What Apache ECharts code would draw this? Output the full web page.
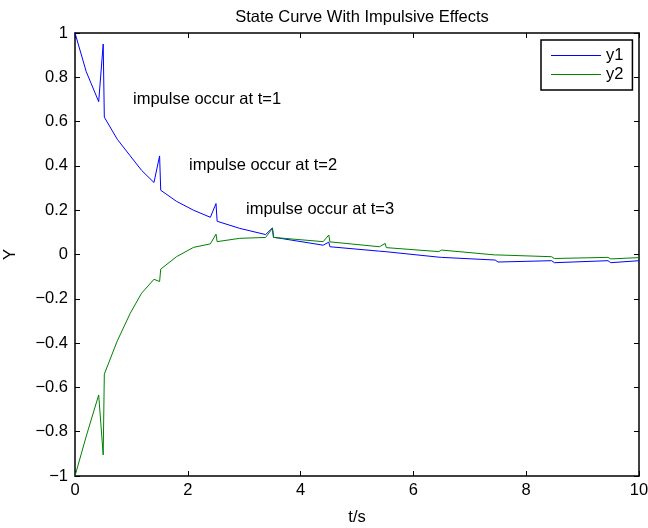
<!DOCTYPE html>
<html>
<head>
<meta charset="utf-8">
<script src="https://cdn.jsdelivr.net/npm/echarts@6/dist/echarts.min.js"></script>
<style>
  html, body { margin: 0; padding: 0; background: #fff; }
  #chart { width: 648px; height: 528px; }
</style>
</head>
<body>
<div id="chart"></div>
<script>
// sample times (s)
var t = [0, 0.2, 0.42, 0.5, 0.52, 0.75, 0.98, 1.18, 1.4, 1.5, 1.52, 1.8, 2.1, 2.4, 2.5, 2.52,
  2.92, 3.38, 3.5, 3.52, 4.4, 4.5, 4.52, 5.4, 5.5, 5.52, 6.45, 6.5, 6.52, 7.45, 7.5, 7.52,
  8.45, 8.5, 8.52, 9.45, 9.5, 9.52, 10]
var y1 = [1, 0.825, 0.69, 0.95, 0.62, 0.52, 0.445, 0.38, 0.325, 0.445, 0.29, 0.24, 0.2, 0.168, 0.23, 0.15,
  0.118, 0.09, 0.12, 0.078, 0.042, 0.056, 0.035, 0.015, 0.013, 0.011, -0.012, -0.013, -0.014, -0.025, -0.034, -0.026,
  -0.028, -0.037, -0.028, -0.028, -0.037, -0.028, -0.028]
var y2 = [-1, -0.82, -0.634, -0.905, -0.54, -0.39, -0.265, -0.175, -0.112, -0.122, -0.066, -0.01, 0.032, 0.048, 0.092, 0.058,
  0.073, 0.077, 0.118, 0.077, 0.058, 0.088, 0.057, 0.035, 0.05, 0.031, 0.013, 0.02, 0.013, -0.002, -0.002, -0.003,
  -0.01, -0.018, -0.01, -0.013, -0.02, -0.013, -0.014]
var notes = [
  { text: 'impulse occur at t=1', x: 133, y: 91 },
  { text: 'impulse occur at t=2', x: 189, y: 157 },
  { text: 'impulse occur at t=3', x: 246, y: 201 }
]

var font = 'Liberation Sans, Arial, sans-serif'
var fs = 16.5

function pairs (ys) {
  return t.map(function (x, i) { return [x, ys[i]] })
}

var axisBase = {
  type: 'value',
  axisLine: { show: true, onZero: false, lineStyle: { color: '#000', width: 1.5 } },
  axisTick: { show: true, inside: true, length: 5, lineStyle: { color: '#000', width: 1 } },
  splitLine: { show: false }
}

var chart = echarts.init(document.getElementById('chart'))
chart.setOption({
  animation: false,
  backgroundColor: '#fff',
  textStyle: { fontFamily: font },
  title: {
    text: 'State Curve With Impulsive Effects',
    left: 357,
    textAlign: 'center',
    top: 4,
    textStyle: { fontFamily: font, fontSize: fs, fontWeight: 'normal', color: '#000' }
  },
  grid: { left: 75, right: 9, top: 33, bottom: 52, outerBoundsMode: 'none', containLabel: false },
  legend: {
    orient: 'vertical',
    left: 541,
    top: 40,
    padding: [7, 9, 7, 10],
    itemGap: 2,
    itemWidth: 50,
    itemHeight: 1.2,
    icon: 'rect',
    lineStyle: { width: 1 },
    backgroundColor: '#fff',
    borderColor: '#000',
    borderWidth: 1.5,
    borderRadius: 0,
    textStyle: { fontFamily: font, fontSize: fs, color: '#000' },
    data: ['y1', 'y2']
  },
  xAxis: [
    Object.assign({}, axisBase, {
      position: 'bottom', min: 0, max: 10, interval: 2,
      name: 't/s', nameLocation: 'middle', nameGap: 33,
      nameTextStyle: { fontFamily: font, fontSize: fs, color: '#000' },
      axisLabel: { fontFamily: font, fontSize: fs, color: '#000', margin: 6 }
    }),
    Object.assign({}, axisBase, {
      position: 'top', min: 0, max: 10, interval: 2, axisLabel: { show: false }
    })
  ],
  yAxis: [
    Object.assign({}, axisBase, {
      position: 'left', min: -1, max: 1, interval: 0.2,
      name: 'Y', nameLocation: 'middle', nameGap: 56,
      nameTextStyle: { fontFamily: font, fontSize: fs, color: '#000' },
      axisLabel: {
        fontFamily: font, fontSize: fs, color: '#000', margin: 7,
        formatter: function (v) { return String(+v.toFixed(1)).replace('-', '\u2212') }
      }
    }),
    Object.assign({}, axisBase, {
      position: 'right', min: -1, max: 1, interval: 0.2, axisLabel: { show: false }
    })
  ],
  graphic: notes.map(function (n) {
    return {
      type: 'text', left: n.x, top: n.y,
      style: { text: n.text, font: fs + 'px ' + font, fill: '#000' }
    }
  }),
  series: [
    {
      name: 'y1', type: 'line', data: pairs(y1), symbol: 'none',
      color: '#0000ff', lineStyle: { width: 1, color: '#0000ff' }
    },
    {
      name: 'y2', type: 'line', data: pairs(y2), symbol: 'none',
      color: '#008000', lineStyle: { width: 1, color: '#008000' }
    }
  ]
})
</script>
</body>
</html>
